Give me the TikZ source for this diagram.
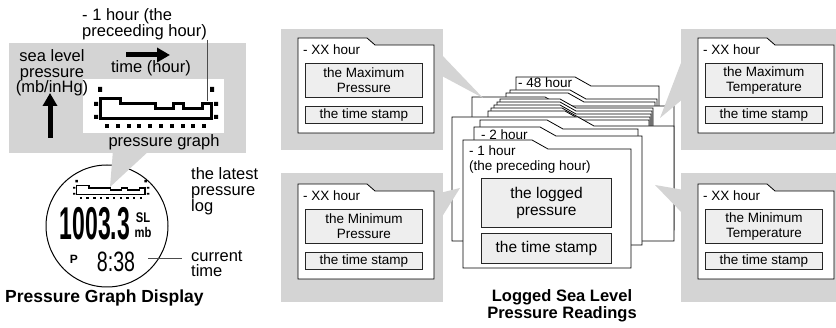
\documentclass[tikz,border=0pt]{standalone}
\usepackage{fontspec}
\setmainfont{Liberation Sans}
\usetikzlibrary{arrows.meta}
\definecolor{panelgray}{RGB}{212,212,212}
\definecolor{boxfill}{RGB}{238,238,238}
\tikzset{
  panel/.style={fill=panelgray},
  wedge/.style={fill=panelgray},
  folder/.style={draw=black, fill=white, line width=0.8pt},
  valbox/.style={draw=black!85, fill=boxfill, line width=0.9pt, inner sep=0pt,
                 align=center, anchor=north west},
  txt/.style={inner sep=0pt, font=\fontsize{16.5}{16}\selectfont},
  tabtxt/.style={inner sep=0pt, anchor=west, font=\fontsize{13.5}{15}\selectfont},
  title/.style={inner sep=0pt, align=center, font=\bfseries\fontsize{16.5}{17}\selectfont},
  pixline/.style={line width=3pt},
  bigarrow/.style={line width=5pt, -{Triangle[length=13pt,width=14pt]}},
  leader/.style={draw, line width=0.7pt, black!70},
  pgraph/.pic={
    \fill (4,0) rectangle (8,5) (116,0) rectangle (120,5)
          (0,15) rectangle (4,19) (0,28) rectangle (4,32)
          (120,15) rectangle (124,19) (120,28) rectangle (124,32);
    \draw[pixline] (6,10) -- (6,33) (117,15) -- (117,33) (6,32) -- (118,32);
    \draw[pixline] (6,11.5) -- (26,11.5) -- (26,17) -- (61,17) -- (61,22) -- (79,22)
      -- (79,17) -- (89,17) -- (89,22) -- (108,22) -- (108,17) -- (118,17);
    \foreach \k in {0,...,9} { \fill (11+10.8*\k,37) rectangle ++(4,4); }
  }
}

\begin{document}
\begin{tikzpicture}[x=1pt, y=-1pt]
  \useasboundingbox (0,0) rectangle (836,328);

  % pressure graph display
  \fill[panel] (9,43) rectangle (246,153);
  \fill[white] (83,79) rectangle (224,133);
  \pic at (94,87) {pgraph};
  \node[txt, align=left, anchor=west] (onehour) at (82,24) {- 1 hour (the\\preceeding hour)};
  \coordinate (curveend) at (207,101);
  \draw[leader] (onehour.south -| curveend) -- (curveend);
  \node[txt, align=center, font=\fontsize{16.5}{15.5}\selectfont] (axisy) at (52,73)
    {sea level\\pressure\\(mb/inHg)};
  \coordinate (ybase) at (50,138);
  \draw[bigarrow] (ybase) -- ++(0,-45);
  \node[txt] (axisx) at (151,68) {time (hour)};
  \coordinate (xbase) at (126,55);
  \draw[bigarrow] (xbase) -- ++(44,0);
  \node[txt] (graphlbl) at (164,142) {pressure graph};

  % watch face
  \node[circle, draw, line width=1pt, minimum size=122pt, inner sep=0pt] (watch) at (107,226) {};
  \pic[transform shape, xscale=0.615, yscale=0.46, pixline/.style={line width=1.5pt}] at (73,180) {pgraph};
  \fill[wedge] (113,150) -- (150,150) -- (110,187) -- cycle;
  \node[inner sep=0pt, font=\bfseries\fontsize{46}{46}\selectfont] (reading) at (95,224)
    {\scalebox{0.5}[1]{1003.3}};
  \node[inner sep=0pt, align=center, font=\bfseries\fontsize{14}{15}\selectfont] (units) at (143,225)
    {\scalebox{0.8}[1]{SL}\\\scalebox{0.8}[1]{mb}};
  \node[inner sep=0pt, font=\bfseries\fontsize{12}{12}\selectfont] (pmark) at (74,259) {P};
  \node[inner sep=0pt, font=\fontsize{28}{28}\selectfont] (clock) at (116,262) {\scalebox{0.7}[1]{8:38}};
  \node[txt, align=left, anchor=west] (latest) at (191,191) {the latest\\pressure\\log};
  \node[txt, align=left, anchor=west, font=\fontsize{16.5}{15}\selectfont] (ctime) at (191,264) {current\\time};
  \coordinate (timeend) at (148,258);
  \draw[leader] (timeend) -- ([xshift=-9pt]ctime.west |- timeend);
  \node[title, anchor=west, font=\bfseries\fontsize{17.5}{17}\selectfont] (lefttitle) at (5,298)
    {Pressure Graph Display};

  % side panels
  \foreach \gx/\gy/\gw/\gh/\ft/\pn/\ptxt in {281/29/162/121/38/maxp/{the Maximum\\Pressure},
      281/173/162/129/184/minp/{the Minimum\\Pressure},
      681/29/155/121/38/maxt/{the Maximum\\Temperature},
      681/173/155/129/184/mint/{the Minimum\\Temperature}} {
    \fill[panel] (\gx,\gy) rectangle ++(\gw,\gh);
    \filldraw[folder] ({\gx+17},{\ft+95}) -- ({\gx+17},\ft) -- ({\gx+86},\ft) -- ({\gx+94},{\ft+7})
      -- ({\gx+153},{\ft+7}) -- ({\gx+153},{\ft+95}) -- cycle;
    \node[tabtxt] (\pn-hour) at ({\gx+22},{\ft+12}) {- XX hour};
    \node[valbox, minimum width=117pt, minimum height=34pt, font=\fontsize{13.5}{15}\selectfont]
      (\pn-val) at ({\gx+24},{\ft+25}) {\ptxt};
    \node[valbox, minimum width=117pt, minimum height=17pt, font=\fontsize{13.5}{15}\selectfont]
      (\pn-stamp) at ({\gx+24},{\ft+68}) {the time stamp};
  }

  % stack of hourly logs, back to front
  \foreach \l/\t/\te/\r/\b in {516/77/575/659/200, 510/90/570/657/200, 506/93/568/655/200,
      472/97/545/674/230, 500/99/560/653/200, 497/102/560/652/200, 494/105/560/651/200,
      491/108/562/650/200, 488/111/565/649/200, 452/117/578/674/241, 480/120/547/638/243,
      474/127/540/642/245, 463/140/532/631/268} {
    \filldraw[folder] (\l,\b) -- (\l,\t) -- (\te,\t) -- ({\te+16},{\t+9}) -- (\r,{\t+9})
      -- (\r,\b) -- cycle;
  }
  \node[tabtxt] (h48) at (518,83) {- 48 hour};
  \node[tabtxt] (h2) at (481,135) {- 2 hour};
  \node[tabtxt, align=left] (h1) at (469,160) {- 1 hour\\(the preceding hour)};
  \node[valbox, minimum width=130pt, minimum height=49pt, font=\fontsize{15.5}{17}\selectfont]
    (logged) at (481,178) {the logged\\pressure};
  \node[valbox, minimum width=130pt, minimum height=30pt, font=\fontsize{15.5}{17}\selectfont]
    (stamp) at (481,233) {the time stamp};
  \node[title] (stacktitle) at (562,306) {Logged Sea Level\\Pressure Readings};

  % callout wedges
  \fill[wedge] (440,53) -- (483,98) -- (440,75) -- cycle;
  \fill[wedge] (684,55) -- (660,118) -- (684,98) -- cycle;
  \fill[wedge] (440,193) -- (460,188) -- (440,220) -- cycle;
  \fill[wedge] (684,190) -- (655,185) -- (684,215) -- cycle;
\end{tikzpicture}
\end{document}
